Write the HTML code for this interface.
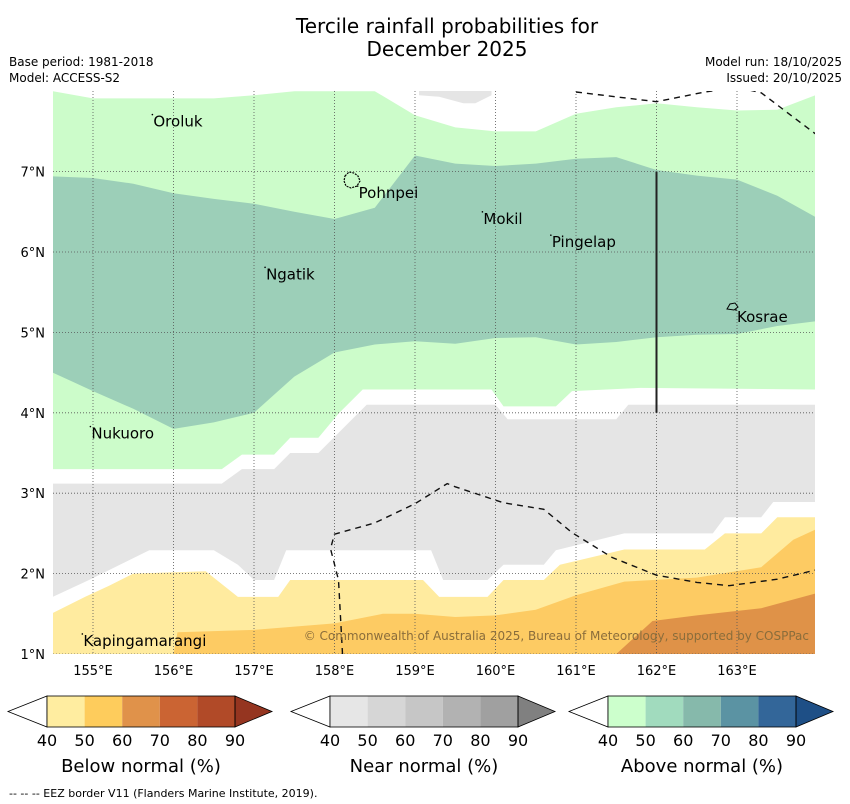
<!DOCTYPE html>
<html><head><meta charset="utf-8"><style>
body{margin:0;background:#fff;}
svg{display:block;font-family:"DejaVu Sans","Liberation Sans",sans-serif;}
</style></head><body>
<svg id="chart" width="850" height="804" viewBox="0 0 850 804" xmlns="http://www.w3.org/2000/svg">
<text x="447" y="33" font-size="20" text-anchor="middle">Tercile rainfall probabilities for</text>
<text x="447" y="56" font-size="20" text-anchor="middle">December 2025</text>
<text x="9" y="66" font-size="12">Base period: 1981-2018</text>
<text x="9" y="82" font-size="12">Model: ACCESS-S2</text>
<text x="842" y="66" font-size="12" text-anchor="end">Model run: 18/10/2025</text>
<text x="842" y="82" font-size="12" text-anchor="end">Issued: 20/10/2025</text>
<defs><clipPath id="mapclip"><rect x="53" y="91" width="762" height="563"/></clipPath></defs>
<g id="map" clip-path="url(#mapclip)"></g>
<g id="overlay"></g>
<g id="legends"></g>
<text x="9" y="797" font-size="11">--  --  -- EEZ border V11 (Flanders Marine Institute, 2019).</text>
</svg>
<script>
// ---- data (lon/lat boundaries of probability bands) ----
const lonTicks = [155,156,157,158,159,160,161,162,163];
const latTicks = [1,2,3,4,5,6,7];
const gLons = [154.5,155,155.5,156,156.5,157,157.5,158,158.5,159,159.5,160,160.5,161,161.5,162,162.5,163,163.5,164];
const greenTopLats = [8.0,7.91,7.91,7.91,7.91,7.95,8.0,8.0,8.0,7.7,7.55,7.5,7.5,7.72,7.8,7.85,7.8,7.76,7.77,7.96];
const tealTopLats = [6.94,6.92,6.85,6.73,6.66,6.6,6.5,6.41,6.55,7.2,7.1,7.07,7.1,7.16,7.18,7.02,6.95,6.9,6.7,6.42];
const tealBotLats = [4.5,4.27,4.05,3.8,3.88,4.0,4.45,4.75,4.85,4.89,4.86,4.93,4.94,4.85,4.88,4.94,4.97,4.98,5.08,5.14];
const greenBotLons = [154.5,156.6,156.85,157.25,157.45,157.8,158.05,158.35,159.95,160.1,160.75,160.95,161.8,164];
const greenBotLats = [3.3,3.3,3.48,3.48,3.69,3.69,3.99,4.29,4.29,4.08,4.08,4.27,4.31,4.29];
const greyTopLons = [154.5,156.6,156.85,157.25,157.45,157.8,158.05,158.4,160.0,160.15,161.5,161.65,164];
const greyTopLats = [3.12,3.12,3.3,3.3,3.5,3.5,3.75,4.1,4.1,3.92,3.92,4.1,4.1];
const greyBotLons = [154.5,154.95,155.7,156.5,156.8,157.0,157.25,157.4,159.2,159.35,159.9,160.1,160.6,160.75,161.6,162.7,162.85,163.3,163.45,164];
const greyBotLats = [1.71,1.92,2.29,2.29,2.11,1.92,1.92,2.29,2.29,1.92,1.92,2.11,2.11,2.29,2.5,2.5,2.7,2.7,2.89,2.89];
const yellowTopLons = [154.5,154.9,155.2,155.5,156.4,156.8,157.3,157.45,159.1,159.3,159.9,160.1,160.6,160.8,161.6,162.6,162.85,163.3,163.5,164];
const yellowTopLats = [1.51,1.71,1.85,2.0,2.03,1.71,1.71,1.92,1.92,1.71,1.71,1.92,1.92,2.11,2.3,2.3,2.5,2.5,2.7,2.7];
const orangeLons = [154.5,156.0,156.05,157.0,158.0,158.6,159.0,159.5,160.0,160.5,161.0,161.6,162.5,163.3,163.7,164];
const orangeLats = [1.0,1.0,1.27,1.3,1.38,1.5,1.5,1.46,1.48,1.55,1.73,1.9,1.95,2.08,2.42,2.56];
const darkLons = [161.5,161.95,162.5,163.3,164];
const darkLats = [1.0,1.41,1.48,1.57,1.76];
const greyPatchLons = [159.05,159.3,159.6,159.75,159.95];
const greyPatchLats = [7.95,7.93,7.85,7.85,7.95];
const eezTopLons = [161.0,162.0,162.6,163.0,163.3,164.0];
const eezTopLats = [7.99,7.87,7.99,8.05,7.98,7.45];
const eezMidLons = [158.1,158.05,157.95,158.0,158.5,159.0,159.4,159.5,160.1,160.6,160.95,161.45,162.0,162.5,162.9,163.5,164.0];
const eezMidLats = [1.0,1.92,2.31,2.49,2.63,2.87,3.12,3.08,2.88,2.8,2.51,2.2,1.98,1.89,1.85,1.93,2.05];
const islandNames = ["Oroluk","Pohnpei","Mokil","Pingelap","Ngatik","Kosrae","Nukuoro","Kapingamarangi"];
const islandLons = [155.75,158.3,159.85,160.7,157.15,163.0,154.98,154.88];
const islandLats = [7.56,6.67,6.35,6.06,5.66,5.13,3.68,1.1];
const belowColors = ["#ffeda0","#fecc5c","#e0924a","#cb6433","#b14a28","#953520"];
const nearColors = ["#e6e6e6","#d6d6d6","#c6c6c6","#b2b2b2","#a0a0a0","#808080"];
const aboveColors = ["#ccffcc","#a1dbbe","#86b9ab","#5b93a3","#336699","#1e4f86"];
const cbLabels = ["40","50","60","70","80","90"];

// ---- axis functions ----
const X = lon => 93 + (lon - 155) * 80.5;
const Y = lat => 654 - (lat - 1) * 80.4;
const NS = "http://www.w3.org/2000/svg";
const map = document.getElementById('map');
const ov = document.getElementById('overlay');
const lg = document.getElementById('legends');
function mk(tag, attrs, parent){const e=document.createElementNS(NS,tag);for(const k in attrs)e.setAttribute(k,attrs[k]);parent.appendChild(e);return e;}
function pts(lons,lats){return lons.map((l,i)=>X(l).toFixed(1)+','+Y(lats[i]).toFixed(1));}
function band(tl,tla,bl,bla,color,name){
  const p = pts(tl,tla).concat(pts(bl,bla).reverse());
  const e = mk('polygon',{points:p.join(' '),fill:color},map);
  
  
}
const flat = (lons,v)=>lons.map(()=>v);
band(gLons,greenTopLats,greenBotLons,greenBotLats,'#ccfcca','above-normal-40-50-region');
band(greyPatchLons,flat(greyPatchLons,8.1),greyPatchLons,greyPatchLats,'#e5e5e5','near-normal-north-patch');
band(gLons,tealTopLats,gLons,tealBotLats,'#9ccfb8','above-normal-50-60-region');
band(greyTopLons,greyTopLats,greyBotLons,greyBotLats,'#e5e5e5','near-normal-40-50-region');
band(yellowTopLons,yellowTopLats,yellowTopLons,flat(yellowTopLons,0.9),'#ffeb9f','below-normal-40-50-region');
band(orangeLons,orangeLats,orangeLons,flat(orangeLons,0.9),'#fdcb63','below-normal-50-60-region');
band(darkLons,darkLats,darkLons,flat(darkLons,0.9),'#df9248','below-normal-60-70-region');

// gridlines
lonTicks.forEach(l=>{
  const e=mk('line',{x1:X(l),x2:X(l),y1:91,y2:654,stroke:'#555',"stroke-width":0.8,"stroke-dasharray":"1,2"},map);
  
  
  const t=mk('text',{x:X(l),y:675,"font-size":13,"text-anchor":"middle"},ov);t.textContent=l+'°E';
  
  
});
latTicks.forEach(l=>{
  const e=mk('line',{x1:53,x2:815,y1:Y(l),y2:Y(l),stroke:'#555',"stroke-width":0.8,"stroke-dasharray":"1,2"},map);
  
  
  const t=mk('text',{x:45,y:Y(l)+5,"font-size":13,"text-anchor":"end"},ov);t.textContent=l+'°N';
  
  
});
// EEZ borders
[[eezTopLons,eezTopLats],[eezMidLons,eezMidLats]].forEach(([a,b])=>{
  const e=mk('polyline',{points:pts(a,b).join(' '),fill:'none',stroke:'#111',"stroke-width":1.4,"stroke-dasharray":"6,5"},map);
  
  
});
const vl=mk('line',{x1:X(162),x2:X(162),y1:Y(7),y2:Y(4),stroke:'#222',"stroke-width":2},map);


// island outlines
const pn=mk('path',{d:'M345,176 l4,-4 l5,1 l4,3 l2,5 l-3,5 l-6,2 l-5,-2 l-2,-5 z',fill:'none',stroke:'#000',"stroke-width":1.2,"stroke-dasharray":"2,1"},map);


const ks=mk('path',{d:'M727,309 l3,-5 l5,-1 l3,4 l-4,3 z',fill:'none',stroke:'#000',"stroke-width":1},map);


// island labels
islandNames.forEach((n,i)=>{
  const t=mk('text',{x:X(islandLons[i]),y:Y(islandLats[i]),"font-size":15},map);t.textContent=n;
  
  
  const d=mk('circle',{cx:X(islandLons[i])-1,cy:Y(islandLats[i])-12,r:0.8,fill:'#000'},map);
  
  
});
const cp=mk('text',{x:809,y:640,"font-size":12,"text-anchor":"end",fill:'#8a6d3b'},map);
cp.textContent='© Commonwealth of Australia 2025, Bureau of Meteorology, supported by COSPPac';



// colorbars
function colorbar(x0,colors,title,name){
  const g=mk('g',{},lg);
  
  
  const w=37.6, y0=696, h=31, cy=711.5;
  mk('polygon',{points:`${x0-39},${cy} ${x0},${y0} ${x0},${y0+h}`,fill:'#fff',stroke:'#000',"stroke-width":0.8},g);
  for(let i=0;i<5;i++) mk('rect',{x:x0+i*w,y:y0,width:w,height:h,fill:colors[i]},g);
  mk('polygon',{points:`${x0+5*w},${y0} ${x0+5*w+37},${cy} ${x0+5*w},${y0+h}`,fill:colors[5],stroke:'#000',"stroke-width":0.8},g);
  mk('rect',{x:x0,y:y0,width:5*w,height:h,fill:'none',stroke:'#000',"stroke-width":0.8},g);
  cbLabels.forEach((l,i)=>{const t=mk('text',{x:x0+i*w,y:746,"font-size":16,"text-anchor":"middle"},g);t.textContent=l;});
  const t=mk('text',{x:x0+2.5*w,y:772,"font-size":18,"text-anchor":"middle"},g);t.textContent=title;
}
colorbar(47,belowColors,'Below normal (%)','colorbar-below-normal');
colorbar(330,nearColors,'Near normal (%)','colorbar-near-normal');
colorbar(608,aboveColors,'Above normal (%)','colorbar-above-normal');
</script>
</body></html>
